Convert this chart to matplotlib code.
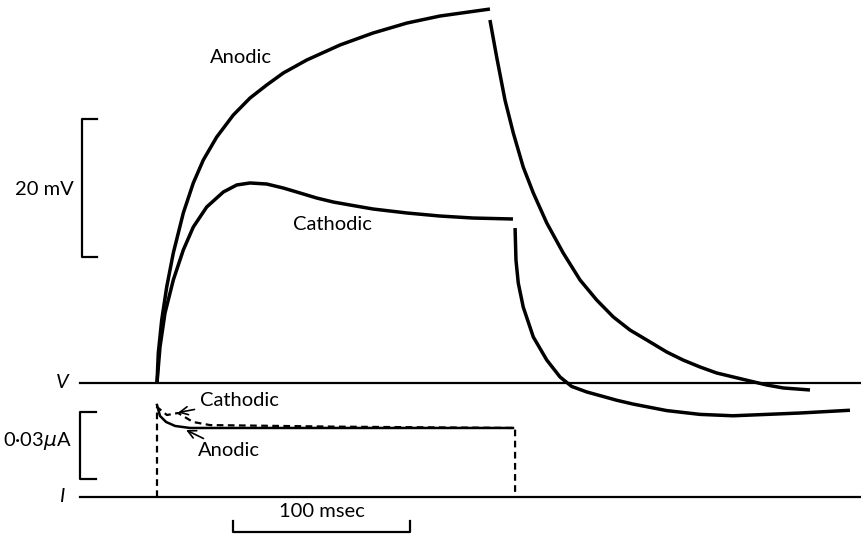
import matplotlib.pyplot as plt
import numpy as np

plt.rcParams['font.family'] = ['Lato', 'DejaVu Sans']

# membrane potential (mV) against time (msec), pulse begins at 0
anod_up_t = [0, 0.73, 2.66, 5.48, 9.21, 14.86, 20.51, 26.16, 33.73, 43.11, 52.54, 61.98, 71.36,
             84.58, 103.4, 122.0, 141.2, 159.9, 188.1]
anod_up_v = [0, 4.35, 9.13, 13.91, 18.84, 24.64, 28.99, 32.32, 35.65, 38.84, 41.30, 43.19, 44.93,
             46.81, 48.99, 50.72, 52.17, 53.19, 54.20]
anod_dn_t = [188.1, 191.9, 196.6, 201.3, 206.9, 212.6, 220.2, 229.5, 239.0, 248.4, 257.8, 267.2,
             276.7, 288.0, 297.2, 306.8, 316.2, 325.6, 335.0, 344.5, 353.8, 368.9]
anod_dn_v = [52.61, 47.25, 41.01, 36.23, 31.30, 27.54, 23.19, 18.84, 14.93, 12.03, 9.57, 7.68,
             6.23, 4.49, 3.33, 2.32, 1.45, 0.87, 0.29, -0.29, -0.72, -1.01]

cath_up_t = [0, 1.69, 4.52, 9.21, 14.86, 20.51, 28.08, 37.46, 45.03, 52.54, 61.98, 71.36, 80.79,
             90.23, 99.60, 109.0, 122.0, 141.2, 159.9, 178.5, 201.1]
cath_up_v = [0, 5.22, 10.14, 14.93, 19.28, 22.61, 25.51, 27.68, 28.70, 28.99, 28.84, 28.26, 27.54,
             26.81, 26.23, 25.80, 25.22, 24.64, 24.20, 23.91, 23.77]
cath_dn_t = [202.3, 202.8, 204.1, 206.9, 212.6, 220.2, 227.7, 234.3, 242.8, 252.0, 259.7, 268.9,
             288.0, 306.8, 325.4, 344.5, 363.3, 391.5]
cath_dn_v = [22.46, 17.83, 14.49, 11.01, 6.67, 3.33, 0.87, -0.50, -1.30, -1.95, -2.50, -3.05,
             -4.00, -4.55, -4.75, -4.55, -4.35, -3.95]

# current (uA)
cath_i_t = [0, 0, 5.6, 11.9, 20.3, 29.9, 100.0, 202.3, 202.3]
cath_i = [0, 0.0403, 0.0367, 0.0376, 0.0336, 0.0322, 0.0315, 0.0309, 0]
anod_i_t = [0, 1.7, 5.1, 10.2, 18.6, 201.1]
anod_i = [0.0412, 0.0363, 0.0336, 0.0318, 0.0309, 0.0309]

fig = plt.figure(figsize=(8.62, 5.37), dpi=100)
ax = fig.add_axes([0, 0, 1, 1])
ax2 = fig.add_axes([0, 0, 1, 1], sharex=ax)
ax.set_xlim(-88.7, 398.3)
ax.set_ylim(-22.32, 55.51)
ax2.set_ylim(-0.01791, 0.2225)
ax.axis('off')
ax2.axis('off')
ax2.patch.set_visible(False)

lw = 2.5
fs = 14.5
for tt, vv in [(anod_up_t, anod_up_v), (anod_dn_t, anod_dn_v), (cath_up_t, cath_up_v), (cath_dn_t, cath_dn_v)]:
    ax.plot(tt, vv, 'k', lw=lw, solid_capstyle='butt', solid_joinstyle='round')
ax.plot([-43.5, 398.3], [0, 0], 'k', lw=1.6)

ax2.plot(cath_i_t, cath_i, 'k', lw=1.6, ls=(0, (3, 2)))
ax2.plot(anod_i_t, anod_i, 'k', lw=1.8)
ax2.plot([-43.5, 398.3], [0, 0], 'k', lw=1.6)

# scale bars
ax.plot([-33.9, -42.4, -42.4, -33.9], [38.26, 38.26, 18.26, 18.26], 'k', lw=1.6)
ax.text(-46.9, 28, '20 mV', ha='right', va='center', fontsize=fs)
ax2.plot([-34.5, -43.5, -43.5, -34.5], [0.0381, 0.0381, 0.0081, 0.0081], 'k', lw=1.6)
ax2.text(-48.0, 0.0251, '0·03$\\mu$A', ha='right', va='center', fontsize=fs)
ax2.plot([42.9, 42.9, 142.9, 142.9], [-0.0107, -0.0157, -0.0157, -0.0107], 'k', lw=1.6)
ax2.text(92.9, -0.0105, '100 msec', ha='center', va='bottom', fontsize=fs)

ax.text(-53.7, 0, 'V', ha='center', va='center', fontsize=fs, style='italic')
ax2.text(-53.7, 0, 'I', ha='center', va='center', fontsize=fs, style='italic')

ax.text(29.9, 47.2, 'Anodic', ha='left', va='center', fontsize=fs)
ax.text(76.8, 23.0, 'Cathodic', ha='left', va='center', fontsize=fs)

ax2.annotate('Cathodic', xy=(11.9, 0.0378), xytext=(24.3, 0.043), ha='left', va='center', fontsize=fs,
             arrowprops=dict(arrowstyle='->', lw=1.2, color='k', shrinkA=2, shrinkB=0))
ax2.annotate('Anodic', xy=(16.4, 0.0300), xytext=(23.2, 0.0206), ha='left', va='center', fontsize=fs,
             arrowprops=dict(arrowstyle='->', lw=1.2, color='k', shrinkA=2, shrinkB=0))

plt.savefig('out.png')
